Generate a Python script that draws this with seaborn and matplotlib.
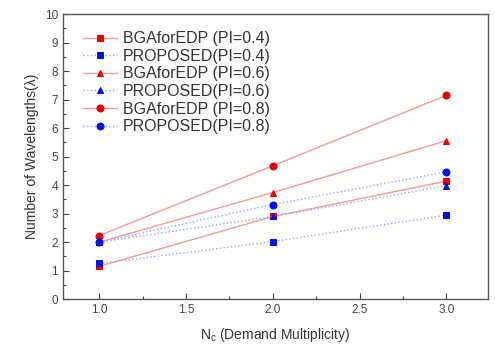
import numpy as np
import pandas as pd
import matplotlib
matplotlib.use('Agg')
import matplotlib.pyplot as plt
import seaborn as sns
from matplotlib.ticker import MultipleLocator

# データ
nc = [1.0, 2.0, 3.0]
bga_04 = [1.15, 2.9, 4.14]
prop_04 = [1.25, 2.02, 2.95]
bga_06 = [2.0, 3.74, 5.56]
prop_06 = [2.0, 2.9, 3.98]
bga_08 = [2.23, 4.68, 7.15]
prop_08 = [2.0, 3.32, 4.47]
labels = ['BGAforEDP (PI=0.4)', 'PROPOSED(PI=0.4)',
          'BGAforEDP (PI=0.6)', 'PROPOSED(PI=0.6)',
          'BGAforEDP (PI=0.8)', 'PROPOSED(PI=0.8)']
series = [bga_04, prop_04, bga_06, prop_06, bga_08, prop_08]

sns.set_style('white')
plt.rcParams['font.family'] = ['Liberation Sans', 'DejaVu Sans']
plt.rcParams['mathtext.fontset'] = 'custom'
plt.rcParams['mathtext.rm'] = 'Liberation Sans'

fig = plt.figure(figsize=(4.95, 3.45), dpi=100)
ax = fig.add_axes([0.127, 0.133, 0.859, 0.826])

markers = ['s', 's', '^', '^', 'o', 'o']
for i, (lab, vals) in enumerate(zip(labels, series)):
    df = pd.DataFrame({'nc': nc, 'w': vals})
    if i % 2 == 0:
        sns.lineplot(data=df, x='nc', y='w', ax=ax, label=lab, color='#f29a9a',
                     linewidth=1.0, linestyle='-', marker=markers[i], markersize=5,
                     markerfacecolor='#e60000', markeredgecolor='#e60000')
    else:
        sns.lineplot(data=df, x='nc', y='w', ax=ax, label=lab, color='#9aa8f0',
                     linewidth=1.0, linestyle=':', marker=markers[i], markersize=5,
                     markerfacecolor='#0010e6', markeredgecolor='#0010e6')

ax.set_xlim(0.79, 3.24)
ax.set_ylim(0, 10)
ax.xaxis.set_major_locator(MultipleLocator(0.5))
ax.xaxis.set_minor_locator(MultipleLocator(0.25))
ax.yaxis.set_major_locator(MultipleLocator(1))
ax.yaxis.set_minor_locator(MultipleLocator(0.5))
ax.set_xticks([1.0, 1.5, 2.0, 2.5, 3.0])
ax.set_xticklabels(['1.0', '1.5', '2.0', '2.5', '3.0'])
ax.tick_params(which='both', direction='in', color='#444444', labelcolor='#444444',
               labelsize=8.5, bottom=True, left=True)
ax.tick_params(which='major', length=4, width=0.8)
ax.tick_params(which='minor', length=2, width=0.8)
for s in ax.spines.values():
    s.set_color('#555555')
    s.set_linewidth(1.0)

ax.set_xlabel(r'N$_\mathregular{c}$ (Demand Multiplicity)', fontsize=10, color='#333333',
              labelpad=7)
ax.set_ylabel('Number of Wavelengths(λ)', fontsize=10, color='#333333')

leg = ax.legend(loc='upper left', bbox_to_anchor=(0.033, 0.962), frameon=False,
                fontsize=11.5, handlelength=2.1, labelspacing=0.16,
                borderaxespad=0.0, handletextpad=0.4)
for t in leg.get_texts():
    t.set_color('#333333')

fig.savefig('out.png', dpi=100)
